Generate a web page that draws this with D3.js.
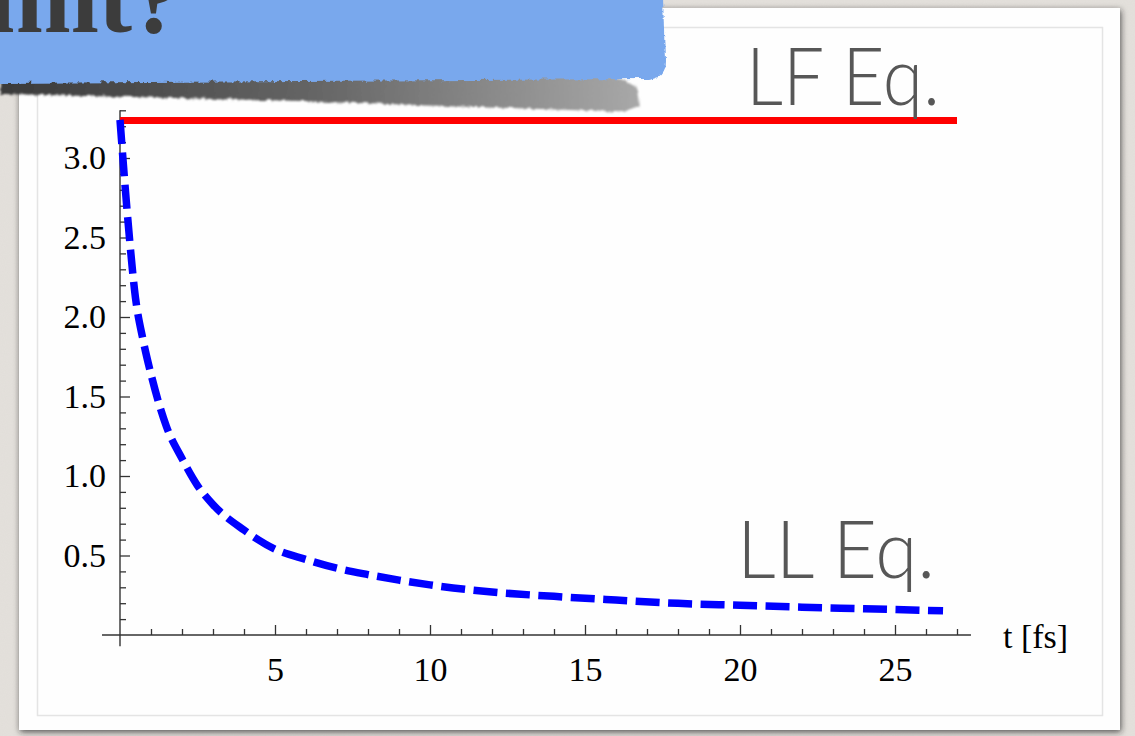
<!DOCTYPE html>
<html><head><meta charset="utf-8">
<script src="https://cdn.jsdelivr.net/npm/d3@7"></script>
<style>html,body{margin:0;padding:0;background:#e3e0db;overflow:hidden}</style>
</head><body><svg id="c" width="1135" height="736"></svg>
<script>
// ---- data ----
const timeFs   = [0, 0.25, 0.5, 0.75, 1, 1.5, 2, 2.5, 3, 4, 5, 6, 7, 8, 9, 10, 12, 14, 16, 18, 20, 22, 24, 26.55];
const llValues = [3.24, 2.62, 2.12, 1.85, 1.64, 1.31, 1.11, 0.94, 0.82, 0.66, 0.54, 0.475, 0.42, 0.38, 0.345, 0.315, 0.27, 0.243, 0.22, 0.199, 0.187, 0.175, 0.165, 0.152];
const lfTime   = [0, 27];
const lfValues = [3.236, 3.236];
const yMajorTicks = [0.5, 1.0, 1.5, 2.0, 2.5, 3.0];
const yMinorTicks = [0.1,0.2,0.3,0.4,0.6,0.7,0.8,0.9,1.1,1.2,1.3,1.4,1.6,1.7,1.8,1.9,2.1,2.2,2.3,2.4,2.6,2.7,2.8,2.9,3.1,3.2,3.3];
const xMajorTicks = [5, 10, 15, 20, 25];
const xMinorTicks = [1,2,3,4,6,7,8,9,11,12,13,14,16,17,18,19,21,22,23,24,26,27];
const xDomainExtent = [-0.58, 27.45];
const yDomainExtent = [-0.07, 3.3];
const xLabel = "t [fs]";
const lfLabel = "LF Eq.";
const llLabel = "LL Eq.";
const titleText = "limit?";

const svg = d3.select("#c");
const defs = svg.append("defs");

// background texture
const tex = defs.append("filter").attr("id","tex").attr("x",0).attr("y",0).attr("width","100%").attr("height","100%");
tex.append("feTurbulence").attr("type","fractalNoise").attr("baseFrequency","0.9").attr("numOctaves",2).attr("seed",3).attr("result","n");
tex.append("feColorMatrix").attr("in","n").attr("type","matrix")
  .attr("values","0 0 0 0 0.55  0 0 0 0 0.53  0 0 0 0 0.5  0 0 0 0.12 0").attr("result","c");
tex.append("feComposite").attr("in","c").attr("in2","SourceGraphic").attr("operator","over");
svg.append("rect").attr("width",1135).attr("height",736).attr("fill","#e4e1dc").attr("filter","url(#tex)");

// paper with shadow
const sh = defs.append("filter").attr("id","psh").attr("x","-5%").attr("y","-5%").attr("width","110%").attr("height","110%");
sh.append("feDropShadow").attr("dx",1).attr("dy",2).attr("stdDeviation",3).attr("flood-color","#222").attr("flood-opacity",0.75);
svg.append("rect").attr("x",19).attr("y",8).attr("width",1101).attr("height",722).attr("fill","#fefefe").attr("filter","url(#psh)");
svg.append("rect").attr("x",37.5).attr("y",27.5).attr("width",1065).attr("height",688).attr("fill","none").attr("stroke","#e4e4e4").attr("stroke-width",1.5);

// scales
const x = d3.scaleLinear().domain([0, 25]).range([120, 895]);
const y = d3.scaleLinear().domain([0, 3]).range([635, 158]);

const g = svg.append("g");
const axisColor = "#333";
const tickFont = "'Liberation Serif','Times New Roman',serif";

// axis lines
g.append("line").attr("x1",x(xDomainExtent[0])).attr("x2",x(xDomainExtent[1])).attr("y1",y(0)).attr("y2",y(0))
  .attr("stroke",axisColor).attr("stroke-width",1.4);
g.append("line").attr("x1",x(0)).attr("x2",x(0)).attr("y1",y(yDomainExtent[0])).attr("y2",y(yDomainExtent[1]))
  .attr("stroke",axisColor).attr("stroke-width",1.4);

function styleAxis(sel){
  sel.select(".domain").remove();
  sel.selectAll(".tick line").attr("stroke",axisColor).attr("stroke-width",1.3);
  sel.selectAll(".tick text").attr("fill","#000").style("font-family",tickFont).style("font-size","34px");
}
// y minor
g.append("g").attr("transform",`translate(${x(0)},0)`)
  .call(d3.axisLeft(y).tickValues(yMinorTicks).tickSize(-6).tickFormat(""))
  .call(styleAxis);
// y major
g.append("g").attr("transform",`translate(${x(0)},0)`)
  .call(d3.axisLeft(y).tickValues(yMajorTicks).tickSize(-10).tickPadding(14).tickFormat(d3.format(".1f")))
  .call(styleAxis);
// x minor
g.append("g").attr("transform",`translate(0,${y(0)})`)
  .call(d3.axisBottom(x).tickValues(xMinorTicks).tickSize(-6).tickFormat(""))
  .call(styleAxis);
// x major
g.append("g").attr("transform",`translate(0,${y(0)})`)
  .call(d3.axisBottom(x).tickValues(xMajorTicks).tickSize(-10).tickPadding(22).tickFormat(d3.format("d")))
  .call(styleAxis);

g.append("text").attr("x",1003).attr("y",y(0)+13).attr("fill","#000")
  .style("font-family",tickFont).style("font-size","34px").text(xLabel);

// lines
const line = d3.line().x(d=>x(d[0])).y(d=>y(d[1]));
g.append("path").datum(d3.zip(lfTime, lfValues)).attr("d",line)
  .attr("fill","none").attr("stroke","#ff0000").attr("stroke-width",7);
g.append("path").datum(d3.zip(timeFs, llValues)).attr("d",line.curve(d3.curveMonotoneX))
  .attr("fill","none").attr("stroke","#0000ff").attr("stroke-width",7.5).attr("stroke-dasharray","24 8.5");

// labels
const labFont = "Lato, 'Open Sans', sans-serif";
svg.append("text").attr("x",746).attr("y",105).attr("fill","#575757")
  .attr("textLength",194).attr("lengthAdjust","spacingAndGlyphs")
  .style("font-family",labFont).style("font-weight",300).style("font-size","80px").text(lfLabel);
svg.append("text").attr("x",737).attr("y",578).attr("fill","#575757")
  .attr("textLength",198).attr("lengthAdjust","spacingAndGlyphs")
  .style("font-family",labFont).style("font-weight",300).style("font-size","80px").text(llLabel);

// banner shadow
const bs = defs.append("linearGradient").attr("id","bsg").attr("x1",0).attr("x2",1).attr("y1",0).attr("y2",0);
bs.append("stop").attr("offset","0").attr("stop-color","#3a3a3a");
bs.append("stop").attr("offset","0.5").attr("stop-color","#666");
bs.append("stop").attr("offset","1").attr("stop-color","#a8a8a8");
const rough = defs.append("filter").attr("id","rough").attr("x","-5%").attr("y","-20%").attr("width","110%").attr("height","140%");
rough.append("feTurbulence").attr("type","turbulence").attr("baseFrequency","0.12").attr("numOctaves",2).attr("seed",7).attr("result","t");
rough.append("feDisplacementMap").attr("in","SourceGraphic").attr("in2","t").attr("scale",5).attr("xChannelSelector","R").attr("yChannelSelector","G");
const rough2 = defs.append("filter").attr("id","rough2").attr("x","-5%").attr("y","-20%").attr("width","110%").attr("height","140%");
rough2.append("feTurbulence").attr("type","turbulence").attr("baseFrequency","0.15").attr("numOctaves",2).attr("seed",11).attr("result","t");
rough2.append("feDisplacementMap").attr("in","SourceGraphic").attr("in2","t").attr("scale",4).attr("xChannelSelector","R").attr("yChannelSelector","G").attr("result","d");
rough2.append("feGaussianBlur").attr("in","d").attr("stdDeviation",1);
svg.append("path").attr("d","M0,70 L560,70 Q625,72 636,88 L638,104 Q632,112 600,110 L300,100 L0,93 Z")
  .attr("fill","url(#bsg)").attr("filter","url(#rough2)");
svg.append("path").attr("d","M-5,-5 L662,-5 L664,60 Q664,76 648,78 L300,80 L0,82 L-5,82 Z")
  .attr("fill","#79a8ed").attr("filter","url(#rough)");

// title fragment (cropped by the slide edge, as in the source)
svg.append("text").attr("x",182).attr("y",32).attr("text-anchor","end").attr("fill","#3c3c3c")
  .style("font-family","'Liberation Serif',serif").style("font-weight",700).style("font-size","100px").text(titleText);
</script></body></html>
